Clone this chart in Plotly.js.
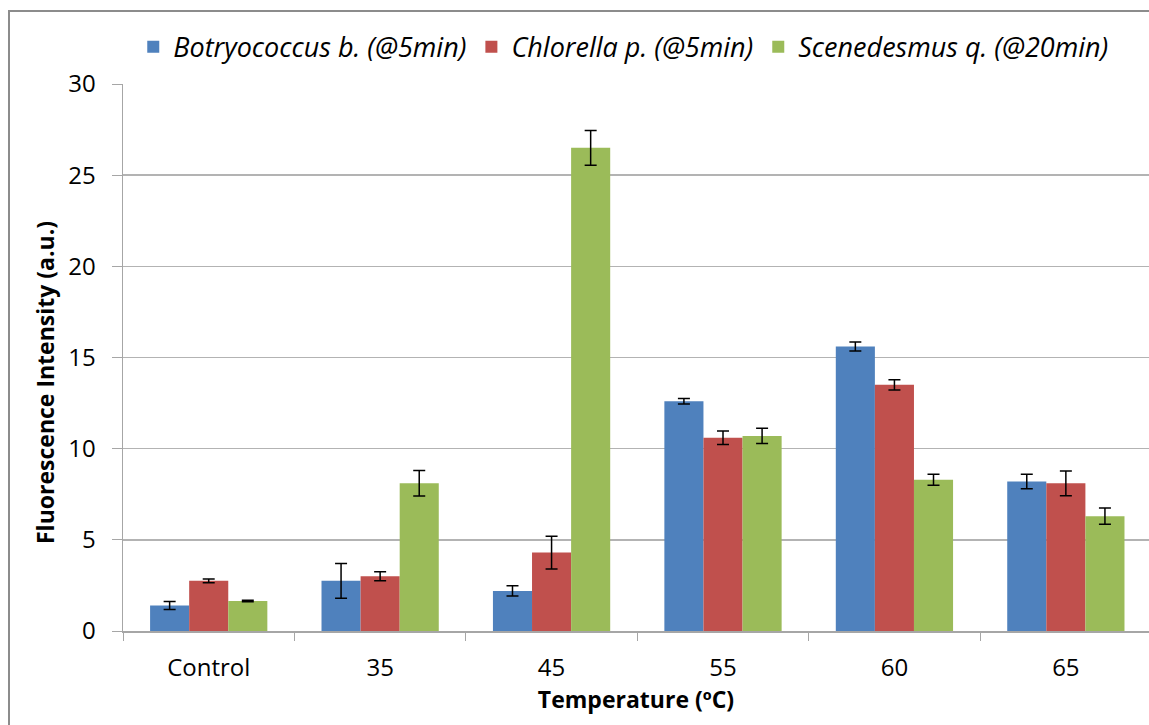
<!DOCTYPE html>
<html>
<head>
<meta charset="utf-8">
<script src="https://cdn.plot.ly/plotly-3.0.1.min.js"></script>
<style>
  html, body { margin: 0; padding: 0; background: #fff; }
  #chart { width: 1149px; height: 725px; position: relative; }
  #frame { position: absolute; left: 8px; top: 10px; width: 1300px; height: 900px;
           border: 2px solid #8c8c8c; pointer-events: none; box-sizing: border-box; }
  #wrap { position: relative; width: 1149px; height: 725px; overflow: hidden; }
</style>
</head>
<body>
<div id="wrap">
  <div id="chart"></div>
  <div id="frame"></div>
</div>
<script>
const categories = ["Control", "35", "45", "55", "60", "65"];
const seriesNames = ["Botryococcus b. (@5min)", "Chlorella p. (@5min)", "Scenedesmus q. (@20min)"];
const botryococcus = [1.4, 2.75, 2.2, 12.6, 15.6, 8.2];
const botryococcusErr = [0.22, 0.95, 0.28, 0.15, 0.25, 0.4];
const chlorella = [2.75, 3.0, 4.3, 10.6, 13.5, 8.1];
const chlorellaErr = [0.1, 0.25, 0.9, 0.37, 0.28, 0.68];
const scenedesmus = [1.65, 8.1, 26.5, 10.7, 8.3, 6.3];
const scenedesmusErr = [0.04, 0.7, 0.95, 0.42, 0.3, 0.44];
const colors = ["#4F81BD", "#C0504D", "#9BBB59"];

const font = "Open Sans, Noto Sans, sans-serif";
function mk(name, y, err, color) {
  return {
    type: "bar", name: name, x: categories, y: y,
    marker: { color: color },
    error_y: { type: "data", array: err, visible: true, color: "#000", thickness: 1.5, width: 6 }
  };
}
const data = [
  mk(seriesNames[0], botryococcus, botryococcusErr, colors[0]),
  mk(seriesNames[1], chlorella, chlorellaErr, colors[1]),
  mk(seriesNames[2], scenedesmus, scenedesmusErr, colors[2])
];

const layout = {
  width: 1149, height: 725,
  margin: { l: 123, r: 0, t: 84, b: 94 },
  paper_bgcolor: "#fff", plot_bgcolor: "#fff",
  font: { family: font, size: 24, color: "#000" },
  barmode: "group", bargap: 0.316, bargroupgap: 0,
  showlegend: true,
  legend: {
    orientation: "h", x: 0.01, y: 1.112, xanchor: "left", yanchor: "top",
    font: { family: font, size: 27, style: "italic", color: "#000" },
    itemwidth: 30, traceorder: "normal", tracegroupgap: 0
  },
  xaxis: {
    type: "category", range: [-0.5, 5.485],
    showline: true, linecolor: "#a6a6a6", linewidth: 1.5,
    ticks: "outside", tickson: "boundaries", ticklen: 8, tickcolor: "#a6a6a6",
    tickfont: { family: font, size: 24 }, ticklabelstandoff: 15,
    title: { text: "<b>Temperature (ºC)</b>", font: { family: font, size: 23 }, standoff: 6 },
    showgrid: false, fixedrange: true
  },
  yaxis: {
    range: [0, 30], dtick: 5, tick0: 0,
    showline: true, linecolor: "#a6a6a6", linewidth: 1.5,
    ticks: "outside", ticklen: 10, tickcolor: "#a6a6a6",
    tickfont: { family: font, size: 24 }, ticklabelstandoff: 11,
    showgrid: true, gridcolor: "#b3b3b3", gridwidth: 1.5,
    zeroline: false, fixedrange: true
  },
  annotations: [{
    text: "<b>Fluorescence Intensity (a.u.)</b>",
    xref: "paper", yref: "paper",
    x: (45 - 123) / 1026, y: (631 - 383) / 547,
    xanchor: "center", yanchor: "middle",
    textangle: -90, showarrow: false,
    font: { family: font, size: 23, color: "#000" }
  }]
};

Plotly.newPlot("chart", data, layout, { displayModeBar: false, staticPlot: true });
</script>
</body>
</html>
